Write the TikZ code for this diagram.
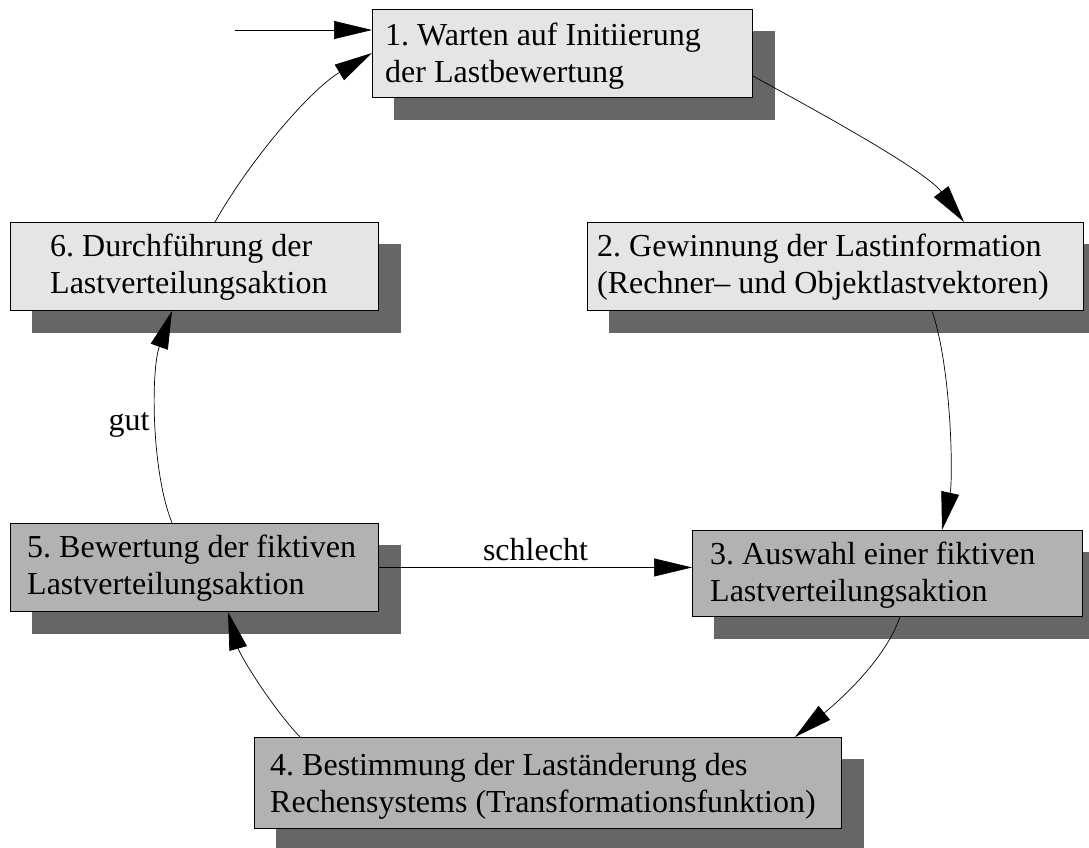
\documentclass[tikz,border=0pt]{standalone}
\usepackage{fontspec}
\setmainfont{Liberation Serif}
\usetikzlibrary{arrows.meta,calc,backgrounds}
\definecolor{lightbox}{gray}{0.9}
\definecolor{darkbox}{gray}{0.7}
\definecolor{shadowc}{gray}{0.4}
\frenchspacing
\begin{document}
\begin{tikzpicture}[x=1pt,y=-1pt,
  box/.style={draw=black, line width=0.9pt, inner sep=0pt, anchor=north west},
  light/.style={box, fill=lightbox},
  dark/.style={box, fill=darkbox},
  txt/.style={align=left, inner sep=0pt, anchor=west,
    font=\fontsize{32}{37}\selectfont},
  conn/.style={line width=0.7pt, -{Triangle[length=38pt,width=18pt]}},
  lbl/.style={font=\fontsize{32}{37}\selectfont}
]
\useasboundingbox (0,0) rectangle (1089,847);

% process step frames
\node[light, minimum width=380pt, minimum height=88pt] (b1) at (372,9) {};
\node[light, minimum width=496pt, minimum height=88pt] (b2) at (587,222) {};
\node[dark,  minimum width=390pt, minimum height=86pt] (b3) at (692,530) {};
\node[dark,  minimum width=587pt, minimum height=91pt] (b4) at (254,737) {};
\node[dark,  minimum width=368pt, minimum height=88pt] (b5) at (10,523) {};
\node[light, minimum width=368pt, minimum height=88pt] (b6) at (10,222) {};

% step texts
\node[txt] (t1) at ($(b1.west)+(13,3)$) {1. Warten auf Initiierung\\der Lastbewertung};
\node[txt] (t2) at ($(b2.west)+(10,1)$) {2. Gewinnung der Lastinformation\\(Rechner– und Objektlastvektoren)};
\node[txt] (t3) at ($(b3.west)+(18,2)$) {3. Auswahl einer fiktiven\\Lastverteilungsaktion};
\node[txt] (t4) at ($(b4.west)+(16,3)$) {4. Bestimmung der Laständerung des\\Rechensystems (Transformationsfunktion)};
\node[txt] (t5) at ($(b5.west)+(17,1)$) {5. Bewertung der fiktiven\\Lastverteilungsaktion};
\node[txt] (t6) at ($(b6.west)+(40,1)$) {6. Durchführung der\\Lastverteilungsaktion};

% drop shadows
\begin{scope}[on background layer]
  \foreach \b in {b1,b2,b3,b4,b5,b6}
    \fill[shadowc] ([shift={(22,22)}]\b.north west) rectangle ([shift={(22,22)}]\b.south east);
\end{scope}

% entry
\coordinate (start) at (235,30);
\draw[conn] (start) -- (start -| b1.west);

% cycle
\draw[conn] ($(b1.north east)+(0,67)$) .. controls (815,110) and (925,170) .. ($(b2.north west)+(377,0)$);
\draw[conn] ($(b2.south west)+(345,0)$) .. controls (952,370) and (953,480) .. ($(b3.north west)+(250,0)$);
\draw[conn] ($(b3.south west)+(208,0)$) .. controls (885,660) and (840,700) .. ($(b4.north west)+(541,0)$);
\draw[conn] ($(b4.north west)+(46,0)$) .. controls (270,705) and (240,655) .. ($(b5.south west)+(218,0)$);
\draw[conn] ($(b5.north west)+(162,0)$) .. controls (151,470) and (151,370) .. ($(b6.south west)+(162,0)$);
\node[lbl] (gut) at (129,425) {gut};
\draw[conn] ($(b6.north west)+(205,0)$) .. controls (250,160) and (310,90) .. ($(b1.north west)+(0,44)$);

% rejected candidate goes back to selection
\draw[conn] (b5.east) -- (b5.east -| b3.west) node[lbl, midway, above=3pt] (bad) {schlecht};
\end{tikzpicture}
\end{document}
